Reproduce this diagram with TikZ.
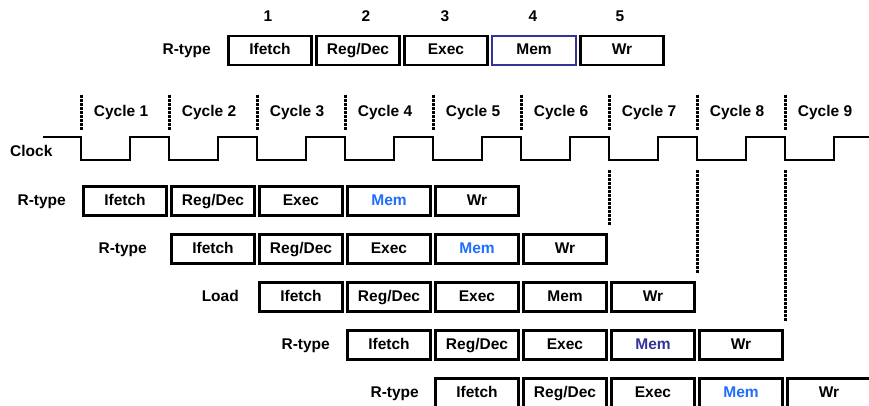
\documentclass[tikz,border=0pt]{standalone}
\usepackage{fontspec}
\setmainfont{Liberation Sans}
\usetikzlibrary{positioning}

\definecolor{memblue}{RGB}{30,110,255}
\definecolor{memdark}{RGB}{51,51,153}

\begin{document}
\begin{tikzpicture}[x=1pt,y=-1pt,
    stage/.style={draw,line width=2.8pt,minimum width=83.5pt,minimum height=29pt,inner sep=0pt,text height=11pt,text depth=3pt,font=\fontsize{15.5}{17}\selectfont\bfseries},
    lbl/.style={inner sep=0pt,text height=11pt,text depth=3pt,font=\fontsize{15.5}{17}\selectfont\bfseries},
    tick/.style={line width=3pt,dash pattern=on 2.6pt off 1.4pt}]
                \clip (0,0) rectangle (869,405);
                \fill[white] (0,0) rectangle (869,405);
                % single instruction, top
                \node[lbl,anchor=east] (top) at (211,50) {R-type};
                \foreach \s/\t in {0/Ifetch,1/{Reg/Dec},2/Exec,4/Wr}
                    \node[stage] (t\s) at (226+88*\s+44,50.5) {\t};
                \node[stage,draw=memdark,line width=1.8pt] (t3) at (226+88*3+44,50.5) {Mem};
                \foreach \n/\x in {1/268,2/366,3/445,4/533,5/620}
                    \node[lbl] (n\n) at (\x,17) {\n};
                % cycles and clock
                \foreach \i in {0,...,8} {
                    \pgfmathtruncatemacro\c{\i+1}
                    \draw[tick] (81+88*\i,95) -- (81+88*\i,130);
                    \node[lbl] (cyc\c) at (81+88*\i+40,112) {Cycle \c};
                }
                \node[lbl,anchor=west] (clk) at (10,152) {Clock};
                \draw[line width=2.6pt] (43,137) -- (81,137)
                    \foreach \i in {0,...,8} { -- ++(0,23) -- ++(49,0) -- ++(0,-23) -- ++(39,0) };
                \foreach \j in {0,1,2}
                    \draw[tick] (609+88*\j,170) -- (609+88*\j,225+48*\j);
                % pipelined rows
                \foreach \r/\k/\name/\lx/\memcol in {1/0/R-type/66/memblue,2/1/R-type/147/memblue,3/2/Load/239/black,4/3/R-type/330/memdark,5/4/R-type/419/memblue} {
                    \node[lbl,anchor=east] (l\r) at (\lx,201+48*\r-48) {\name};
                    \foreach \s/\t/\col in {0/Ifetch/black,1/{Reg/Dec}/black,2/Exec/black,3/Mem/\memcol,4/Wr/black}
                        \node[stage,text=\col] (r\r s\s) at (81+88*\k+88*\s+44,201+48*\r-48) {\t};
                }
            \end{tikzpicture}
\end{document}
